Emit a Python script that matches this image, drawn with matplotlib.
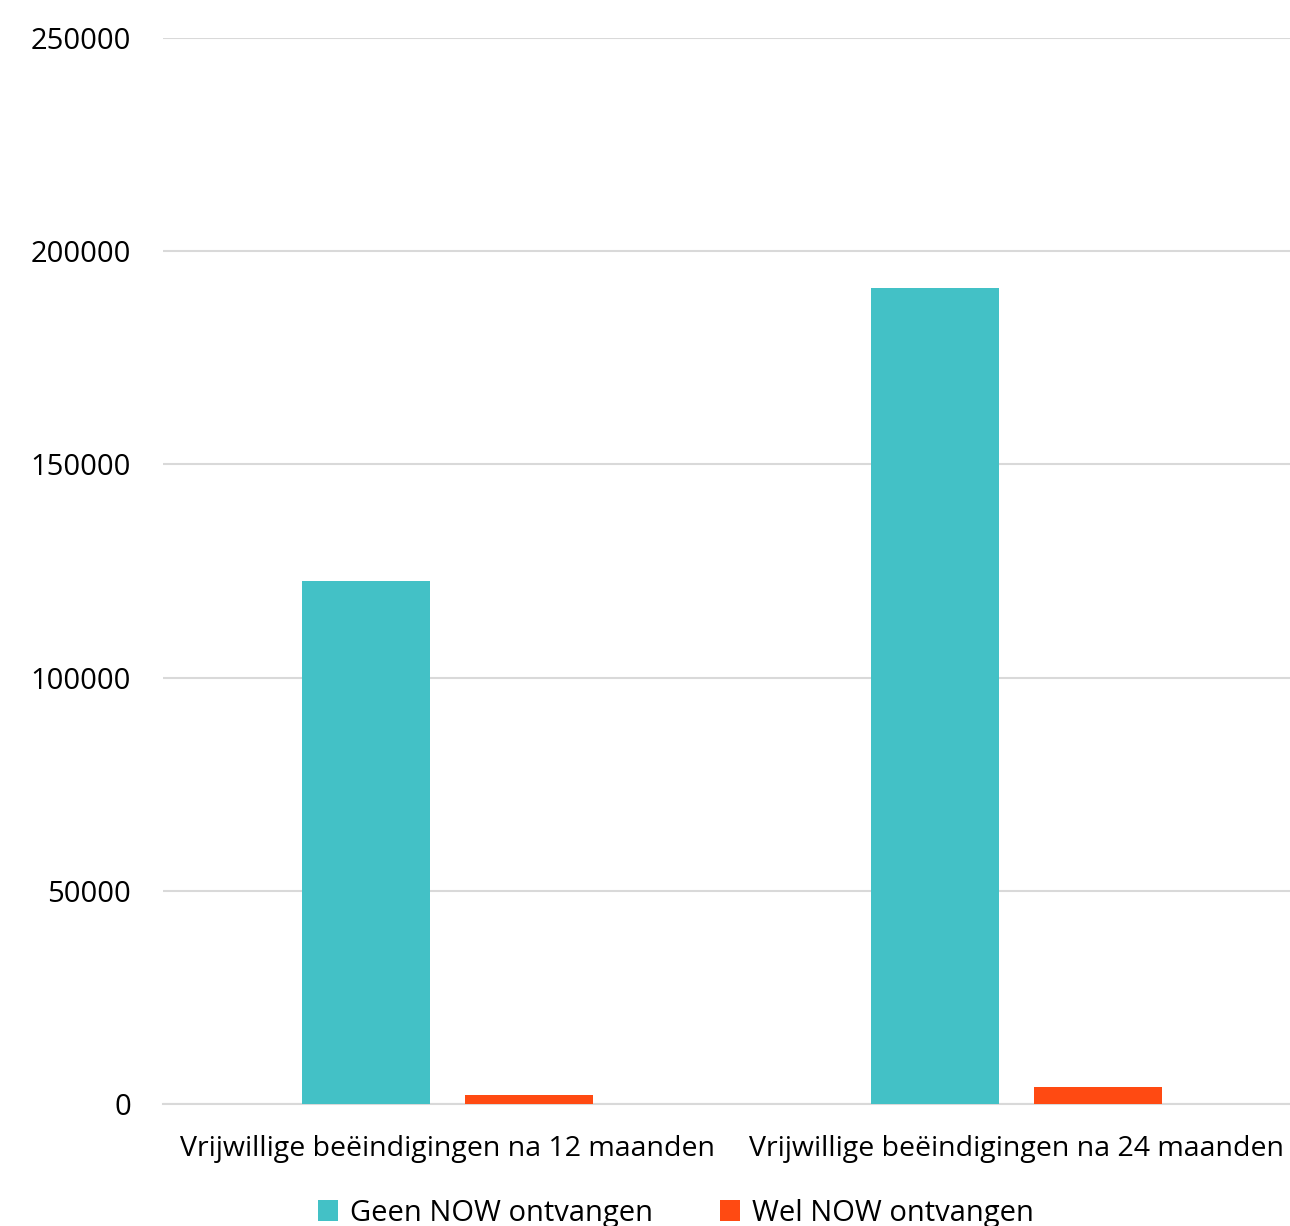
import matplotlib.pyplot as plt
import numpy as np

categories = ["Vrijwillige beëindigingen na 12 maanden",
              "Vrijwillige beëindigingen na 24 maanden"]
series_names = ["Geen NOW ontvangen", "Wel NOW ontvangen"]
geen_now = [122600, 191400]
wel_now = [2000, 4000]
y_ticks = [0, 50000, 100000, 150000, 200000, 250000]

teal = "#43c1c6"
orange = "#ff4a12"

plt.rcParams['font.family'] = ['Open Sans', 'DejaVu Sans']

fig = plt.figure(figsize=(12.9, 12.26), dpi=100)
# axes runs a little past the right edge, like the source
ax = fig.add_axes([163 / 1290, 1 - 1104 / 1226, 1138 / 1290, (1104 - 38) / 1226])

x = np.arange(len(categories))
w = 0.225
ax.bar(x - 0.1425, geen_now, w, color=teal, label=series_names[0], zorder=3)
ax.bar(x + 0.1425, wel_now, w, color=orange, label=series_names[1], zorder=3)

ax.set_xlim(-0.5, 1.5)
ax.set_ylim(0, 250000)
ax.set_yticks(y_ticks)
ax.set_yticklabels([str(t) for t in y_ticks])
ax.set_xticks(x)
ax.set_xticklabels(categories, fontsize=20.5)

for s in ['top', 'right', 'left']:
    ax.spines[s].set_visible(False)
ax.spines['bottom'].set_color('#d9d9d9')
ax.spines['bottom'].set_linewidth(1.5)

ax.grid(axis='y', color='#d9d9d9', linewidth=1.5, zorder=0)
ax.set_axisbelow(True)
ax.tick_params(axis='y', length=0, labelsize=21, colors='#000000', pad=23)
ax.tick_params(axis='x', length=0, colors='#000000', pad=22)

handles, labels = ax.get_legend_handles_labels()
fig.legend(handles, labels, loc='center', bbox_to_anchor=(0.524, 1 - 1213 / 1226),
           ncol=2, frameon=False, fontsize=21, handlelength=0.7, handleheight=0.7,
           handletextpad=0.4, columnspacing=2.3)

fig.savefig("out.png", dpi=100)
